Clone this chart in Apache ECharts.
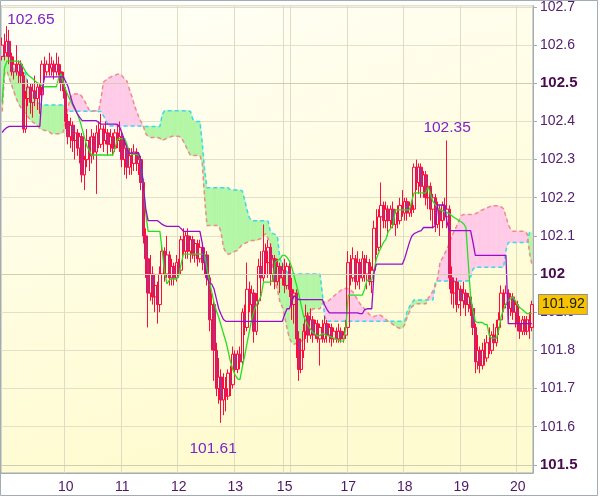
<!DOCTYPE html>
<html><head><meta charset="utf-8">
<script src="https://cdn.jsdelivr.net/npm/echarts@6/dist/echarts.min.js"></script>
<style>html,body{margin:0;padding:0;background:#fff}#c{width:600px;height:497px}</style>
</head><body><div id="c"></div>
<script>
// ---- tick labels ----
const dayLabels = ['10','11','12','13','15','17','18','19','20'];
const dayLabelIdx = [27,51,75,99,120,147,171,195,219];
const extraGridIdx = [123];
const lastPrice = 101.92;

// ---- candles ----
const open = [
102.57,102.60,102.58,102.61,102.57,102.53,102.55,102.53,102.55,102.52,
102.38,102.46,102.49,102.45,102.48,102.46,102.49,102.47,102.55,102.53,
102.55,102.54,102.55,102.53,102.55,102.53,102.50,102.48,102.40,102.36,
102.39,102.35,102.37,102.33,102.36,102.26,102.30,102.35,102.31,102.36,
102.32,102.37,102.34,102.38,102.35,102.37,102.34,102.36,102.33,102.37,
102.35,102.36,102.30,102.33,102.28,102.31,102.29,102.32,102.29,102.30,
102.24,102.10,102.04,101.95,102.00,101.94,101.97,101.92,102.00,102.06,
102.00,102.05,101.99,102.02,101.99,102.03,102.01,102.09,102.06,102.10,
102.06,102.09,102.05,102.08,102.04,102.07,102.03,102.05,101.99,101.88,
101.92,101.80,101.70,101.73,101.67,101.70,101.68,101.74,101.71,101.79,
101.75,101.79,101.77,101.90,101.86,101.96,101.92,101.95,101.85,101.93,
102.02,101.99,102.06,102.03,102.07,102.00,102.04,101.98,102.02,101.99,
102.01,101.97,102.02,101.96,101.92,101.95,101.83,101.75,101.80,101.85,
101.89,101.84,101.88,101.84,101.87,101.83,101.86,101.83,101.87,101.84,
101.86,101.83,101.85,101.83,101.85,101.83,101.84,101.86,102.03,101.99,
102.04,101.98,102.03,101.99,102.04,102.00,102.03,101.98,102.01,102.12,
102.07,102.15,102.18,102.14,102.17,102.14,102.17,102.13,102.16,102.14,
102.18,102.16,102.19,102.16,102.18,102.17,102.28,102.24,102.28,102.23,
102.26,102.20,102.23,102.17,102.20,102.13,102.17,102.14,102.18,102.15,
102.17,101.99,101.95,101.98,101.92,101.96,101.93,101.95,101.92,101.94,
101.91,101.86,101.77,101.80,101.76,101.80,101.78,101.82,101.80,101.84,
101.82,101.86,101.88,101.95,101.92,101.95,101.91,101.94,101.90,101.92,
101.87,101.85,101.88,101.85,101.88,101.86];
const close = [
102.60,102.58,102.61,102.57,102.53,102.55,102.53,102.55,102.52,102.38,
102.46,102.49,102.45,102.48,102.46,102.49,102.47,102.55,102.53,102.55,
102.54,102.55,102.53,102.55,102.53,102.50,102.48,102.40,102.36,102.39,
102.35,102.37,102.33,102.36,102.26,102.30,102.35,102.31,102.36,102.32,
102.37,102.34,102.38,102.35,102.37,102.34,102.36,102.33,102.37,102.35,
102.36,102.30,102.33,102.28,102.31,102.29,102.32,102.29,102.30,102.24,
102.10,102.04,101.95,102.00,101.94,101.97,101.92,102.00,102.06,102.00,
102.05,101.99,102.02,101.99,102.03,102.01,102.09,102.06,102.10,102.06,
102.09,102.05,102.08,102.04,102.07,102.03,102.05,101.99,101.88,101.92,
101.80,101.70,101.73,101.67,101.70,101.68,101.74,101.71,101.79,101.75,
101.79,101.77,101.90,101.86,101.96,101.92,101.95,101.85,101.93,102.02,
101.99,102.06,102.03,102.07,102.00,102.04,101.98,102.02,101.99,102.01,
101.97,102.02,101.96,101.92,101.95,101.83,101.75,101.80,101.85,101.89,
101.84,101.88,101.84,101.87,101.83,101.86,101.83,101.87,101.84,101.86,
101.83,101.85,101.83,101.85,101.83,101.84,101.86,102.03,101.99,102.04,
101.98,102.03,101.99,102.04,102.00,102.03,101.98,102.01,102.12,102.07,
102.15,102.18,102.14,102.17,102.14,102.17,102.13,102.16,102.14,102.18,
102.16,102.19,102.16,102.18,102.17,102.28,102.24,102.28,102.23,102.26,
102.20,102.23,102.17,102.20,102.13,102.17,102.14,102.18,102.15,102.17,
101.99,101.95,101.98,101.92,101.96,101.93,101.95,101.92,101.94,101.91,
101.86,101.77,101.80,101.76,101.80,101.78,101.82,101.80,101.84,101.82,
101.86,101.88,101.95,101.92,101.95,101.91,101.94,101.90,101.92,101.87,
101.85,101.88,101.85,101.88,101.86,101.92];
const high = [
102.62,102.63,102.65,102.64,102.58,102.57,102.60,102.56,102.56,102.53,
102.48,102.51,102.50,102.50,102.52,102.50,102.50,102.56,102.57,102.56,
102.58,102.57,102.56,102.58,102.57,102.55,102.53,102.49,102.42,102.41,
102.40,102.39,102.38,102.37,102.37,102.31,102.38,102.36,102.38,102.37,
102.39,102.40,102.42,102.39,102.40,102.38,102.38,102.37,102.38,102.39,
102.40,102.37,102.35,102.34,102.33,102.33,102.34,102.33,102.32,102.31,
102.25,102.12,102.06,102.05,102.02,101.99,101.98,102.02,102.08,102.07,
102.10,102.06,102.04,102.03,102.05,102.04,102.10,102.12,102.11,102.12,
102.10,102.10,102.09,102.09,102.09,102.08,102.07,102.06,102.00,101.95,
101.93,101.82,101.78,101.75,101.74,101.73,101.75,101.76,101.81,101.80,
101.80,101.81,101.91,101.92,102.03,101.98,101.97,101.96,101.95,102.04,
102.06,102.13,102.08,102.09,102.08,102.05,102.05,102.04,102.03,102.03,
102.04,102.03,102.03,101.99,101.96,101.96,101.85,101.82,101.87,101.92,
101.90,101.91,101.89,101.88,101.88,101.87,101.88,101.89,101.88,101.87,
101.87,101.86,101.86,101.87,101.86,101.85,101.88,102.06,102.05,102.07,
102.05,102.06,102.04,102.06,102.05,102.05,102.04,102.02,102.14,102.17,
102.17,102.24,102.19,102.19,102.18,102.18,102.19,102.17,102.18,102.20,
102.22,102.20,102.20,102.19,102.19,102.29,102.30,102.29,102.29,102.27,
102.27,102.25,102.24,102.21,102.21,102.19,102.18,102.19,102.20,102.35,
102.18,102.02,101.99,101.99,101.98,101.97,101.98,101.96,101.95,101.95,
101.92,101.87,101.84,101.81,101.82,101.83,101.84,101.86,101.85,101.87,
101.88,101.90,101.97,101.96,101.97,101.96,101.95,101.95,101.93,101.93,
101.89,101.89,101.89,101.89,101.90,101.93];
const low = [
102.56,102.56,102.57,102.55,102.52,102.51,102.52,102.50,102.50,102.37,
102.37,102.44,102.42,102.41,102.44,102.43,102.42,102.46,102.51,102.52,
102.52,102.52,102.51,102.52,102.52,102.48,102.46,102.38,102.34,102.33,
102.32,102.30,102.31,102.29,102.24,102.22,102.28,102.27,102.29,102.30,
102.21,102.33,102.33,102.32,102.34,102.31,102.32,102.31,102.32,102.33,
102.32,102.28,102.26,102.25,102.26,102.26,102.27,102.27,102.26,102.22,
102.08,101.99,101.86,101.93,101.92,101.90,101.87,101.90,101.99,101.98,
101.99,101.97,101.97,101.97,101.98,101.99,102.00,102.05,102.04,102.04,
102.03,102.04,102.03,102.02,102.03,102.01,102.00,101.97,101.85,101.80,
101.72,101.68,101.66,101.61,101.63,101.64,101.67,101.68,101.70,101.72,
101.74,101.75,101.76,101.84,101.85,101.90,101.88,101.82,101.84,101.92,
101.97,101.98,102.00,101.99,101.97,101.98,101.96,101.97,101.95,101.97,
101.95,101.96,101.94,101.88,101.87,101.78,101.72,101.74,101.78,101.83,
101.82,101.83,101.82,101.83,101.82,101.76,101.82,101.82,101.82,101.82,
101.81,101.82,101.82,101.82,101.82,101.82,101.83,101.85,101.97,101.98,
101.96,101.97,101.96,101.98,101.98,101.96,101.97,101.95,102.00,102.05,
102.06,102.13,102.12,102.12,102.10,102.12,102.12,102.10,102.12,102.13,
102.15,102.14,102.14,102.15,102.15,102.16,102.22,102.21,102.20,102.20,
102.18,102.17,102.14,102.12,102.11,102.12,102.10,102.12,102.14,102.12,
101.96,101.92,101.91,101.90,101.91,101.89,101.91,101.89,101.90,101.89,
101.84,101.74,101.75,101.74,101.75,101.76,101.77,101.79,101.79,101.80,
101.81,101.84,101.87,101.90,101.91,101.88,101.89,101.88,101.86,101.85,
101.83,101.84,101.84,101.84,101.83,101.85];

// ---- ichimoku lines ----
const tenkan = [
102.45,102.54,102.558,102.558,102.558,102.558,102.558,102.558,102.553,102.541,
102.530,102.522,102.517,102.512,102.506,102.501,102.498,102.493,102.491,102.491,
102.491,102.491,102.491,102.491,102.513,102.525,102.501,102.483,102.467,102.455,
102.442,102.430,102.419,102.402,102.380,102.357,102.335,102.324,102.312,102.312,
102.312,102.312,102.312,102.312,102.312,102.312,102.312,102.312,102.332,102.353,
102.355,102.355,102.355,102.340,102.319,102.314,102.314,102.314,102.312,102.296,
102.231,102.159,102.112,102.112,102.112,102.112,102.112,102.112,102.060,102.005,
101.974,101.984,101.987,101.987,101.987,101.995,102.026,102.052,102.052,102.052,
102.052,102.052,102.052,102.052,102.052,102.052,102.052,102.013,101.982,101.953,
101.925,101.904,101.886,101.865,101.844,101.824,101.798,101.770,101.749,101.735,
101.725,101.723,101.756,101.785,101.818,101.850,101.881,101.904,101.919,101.930,
101.943,101.979,101.979,101.979,101.979,101.984,102.031,102.036,102.039,102.049,
102.049,102.044,102.034,102.018,101.995,101.972,101.948,101.919,101.891,101.876,
101.865,101.855,101.847,101.842,101.837,101.839,101.844,101.842,101.839,101.837,
101.834,101.832,101.829,101.826,101.824,101.824,101.860,101.945,101.945,101.945,
101.945,101.945,101.945,101.945,101.961,101.984,101.984,101.984,102.010,102.041,
102.057,102.070,102.083,102.091,102.112,102.119,102.127,102.168,102.168,102.168,
102.168,102.168,102.168,102.168,102.192,102.213,102.213,102.213,102.213,102.213,
102.213,102.229,102.208,102.190,102.182,102.174,102.168,102.166,102.163,102.161,
102.158,102.153,102.148,102.145,102.140,102.137,102.132,102.122,102.031,101.940,
101.904,101.876,101.873,101.873,101.873,101.868,101.868,101.837,101.832,101.832,
101.832,101.855,101.889,101.907,101.922,101.930,101.935,101.940,101.930,101.919,
101.911,101.907,101.901,101.896,101.896,101.896];
const kijun = [
102.371,102.379,102.384,102.387,102.387,102.387,102.387,102.387,102.387,102.387,
102.387,102.387,102.387,102.387,102.387,102.387,102.387,102.483,102.517,102.517,
102.517,102.517,102.517,102.517,102.517,102.517,102.517,102.504,102.491,102.467,
102.446,102.433,102.419,102.410,102.402,102.402,102.402,102.402,102.402,102.402,
102.402,102.397,102.393,102.393,102.393,102.393,102.393,102.393,102.393,102.392,
102.384,102.368,102.348,102.330,102.317,102.317,102.317,102.317,102.317,102.296,
102.228,102.171,102.140,102.140,102.140,102.140,102.140,102.135,102.130,102.127,
102.125,102.125,102.125,102.125,102.125,102.125,102.119,102.112,102.112,102.112,
102.112,102.112,102.112,102.112,102.112,102.081,102.024,101.990,101.977,101.974,
101.961,101.935,101.909,101.894,101.881,101.876,101.876,101.876,101.876,101.876,
101.876,101.876,101.876,101.876,101.876,101.876,101.876,101.876,101.876,101.876,
101.876,101.876,101.876,101.876,101.876,101.876,101.876,101.876,101.876,101.876,
101.894,101.909,101.909,101.927,101.943,101.938,101.933,101.933,101.933,101.933,
101.933,101.933,101.933,101.933,101.933,101.933,101.933,101.919,101.907,101.898,
101.898,101.898,101.898,101.898,101.898,101.898,101.898,101.898,101.898,101.898,
101.898,101.898,101.896,101.896,101.907,101.909,101.909,101.909,102.005,102.026,
102.026,102.026,102.026,102.026,102.026,102.026,102.026,102.026,102.026,102.026,
102.026,102.041,102.062,102.083,102.099,102.106,102.109,102.112,102.114,102.122,
102.122,102.122,102.122,102.122,102.127,102.181,102.181,102.181,102.181,102.135,
102.114,102.114,102.114,102.114,102.114,102.114,102.114,102.114,102.114,102.114,
102.083,102.049,102.049,102.049,102.049,102.049,102.049,102.049,102.049,102.049,
102.049,102.049,102.049,102.049,102.049,101.870,101.870,101.870,101.870,101.870,
101.870,101.870,101.870,101.870,101.870,101.870];
const spanA = [
102.571,102.571,102.571,102.571,102.571,102.535,102.527,102.527,102.527,102.527,
102.527,102.485,102.475,102.467,102.457,102.449,102.446,102.443,102.443,102.443,
102.443,102.443,102.443,102.443,102.443,102.443,102.443,102.433,102.427,102.427,
102.427,102.427,102.427,102.427,102.427,102.427,102.427,102.427,102.427,102.427,
102.427,102.426,102.426,102.415,102.405,102.389,102.388,102.388,102.388,102.388,
102.388,102.388,102.388,102.388,102.388,102.388,102.388,102.388,102.388,102.388,
102.387,102.387,102.387,102.387,102.387,102.387,102.387,102.387,102.418,102.428,
102.428,102.428,102.428,102.428,102.428,102.428,102.428,102.428,102.428,102.428,
102.426,102.405,102.400,102.400,102.400,102.343,102.272,102.226,102.226,102.226,
102.226,102.226,102.226,102.226,102.226,102.226,102.226,102.220,102.220,102.220,
102.220,102.220,102.218,102.195,102.168,102.148,102.140,102.140,102.140,102.140,
102.140,102.140,102.140,102.138,102.109,102.106,102.104,102.094,102.039,102.028,
102.016,102.005,102.000,102.000,102.000,102.000,102.000,102.000,102.000,102.000,
102.000,102.000,102.000,102.000,102.000,102.000,101.950,101.889,101.876,101.876,
101.876,101.876,101.876,101.876,101.876,101.876,101.876,101.876,101.876,101.876,
101.876,101.876,101.876,101.876,101.876,101.876,101.876,101.876,101.876,101.876,
101.876,101.876,101.876,101.876,101.876,101.876,101.876,101.876,101.876,101.876,
101.876,101.876,101.901,101.914,101.924,101.932,101.932,101.932,101.932,101.932,
101.932,101.932,101.932,101.932,101.979,101.982,101.982,101.982,101.982,101.982,
101.982,101.982,101.982,101.982,101.982,101.982,101.982,101.982,101.982,101.992,
102.013,102.018,102.018,102.018,102.018,102.018,102.018,102.018,102.018,102.018,
102.018,102.018,102.018,102.018,102.062,102.083,102.083,102.083,102.083,102.083,
102.083,102.083,102.083,102.083,102.109,102.109];
const spanB = [
102.426,102.524,102.532,102.514,102.496,102.478,102.460,102.446,102.436,102.426,
102.420,102.412,102.404,102.399,102.394,102.389,102.381,102.379,102.376,102.376,
102.373,102.368,102.368,102.368,102.368,102.368,102.373,102.407,102.436,102.464,
102.472,102.472,102.472,102.472,102.464,102.454,102.441,102.430,102.428,102.428,
102.428,102.428,102.459,102.503,102.508,102.514,102.516,102.519,102.521,102.524,
102.524,102.519,102.511,102.506,102.485,102.467,102.446,102.428,102.412,102.399,
102.387,102.368,102.361,102.358,102.358,102.358,102.358,102.356,102.350,102.353,
102.356,102.358,102.361,102.361,102.361,102.361,102.358,102.348,102.335,102.322,
102.311,102.311,102.311,102.311,102.311,102.291,102.200,102.127,102.127,102.127,
102.127,102.127,102.127,102.109,102.070,102.057,102.052,102.054,102.057,102.060,
102.062,102.070,102.078,102.080,102.083,102.086,102.088,102.088,102.088,102.091,
102.093,102.101,102.106,102.093,102.078,102.018,101.979,101.956,101.927,101.914,
101.889,101.858,101.832,101.821,101.816,101.819,101.821,101.824,101.829,101.842,
101.894,101.901,101.909,101.909,101.909,101.909,101.922,101.927,101.927,101.932,
101.937,101.943,101.948,101.953,101.958,101.961,101.963,101.961,101.958,101.953,
101.943,101.932,101.922,101.914,101.909,101.901,101.894,101.889,101.889,101.891,
101.894,101.891,101.886,101.881,101.876,101.873,101.868,101.863,101.860,101.858,
101.858,101.868,101.886,101.901,101.914,101.919,101.922,101.922,101.922,101.922,
101.922,101.937,101.945,101.956,101.969,101.989,102.031,102.041,102.054,102.065,
102.083,102.099,102.112,102.125,102.140,102.153,102.156,102.156,102.156,102.156,
102.156,102.158,102.161,102.166,102.168,102.171,102.174,102.176,102.179,102.179,
102.179,102.179,102.176,102.171,102.151,102.130,102.117,102.112,102.112,102.112,
102.112,102.112,102.112,102.106,102.057,102.026];

// ---- build library structures ----
const N = close.length;
const cats = close.map((_, i) => String(i));
const candleData = close.map((c, i) => [open[i], c, low[i], high[i]]);
const cloudData = spanA.slice(0, -1).map((a, i) => [i, a, spanB[i], spanA[i + 1], spanB[i + 1]]);

function argBest(arr, from, to, better) {
  let b = from;
  for (let i = from; i < to; i++) if (better(arr[i], arr[b])) b = i;
  return b;
}
const iMax = argBest(high, 0, N, (a, b) => a > b);
const iMin = argBest(low, 0, N, (a, b) => a < b);
const iMax2 = argBest(high, dayLabelIdx[6], N, (a, b) => a > b);

const GREEN = '#b3f6a6', PINK = '#ffcbe8';
function renderCloud(params, api) {
  const i = api.value(0);
  const a0 = api.value(1), b0 = api.value(2), a1 = api.value(3), b1 = api.value(4);
  const pA0 = api.coord([i, a0]), pB0 = api.coord([i, b0]);
  const pA1 = api.coord([i + 1, a1]), pB1 = api.coord([i + 1, b1]);
  const d0 = a0 - b0, d1 = a1 - b1;
  const ch = [];
  const poly = (pts, col) => ch.push({type: 'polygon', shape: {points: pts}, style: {fill: col, stroke: col, lineWidth: 0.6}});
  if (d0 * d1 >= 0) {
    poly([pA0, pA1, pB1, pB0], (d0 + d1) >= 0 ? GREEN : PINK);
  } else {
    const t = d0 / (d0 - d1);
    const px = [pA0[0] + (pA1[0] - pA0[0]) * t, pA0[1] + (pA1[1] - pA0[1]) * t];
    poly([pA0, px, pB0], d0 > 0 ? GREEN : PINK);
    poly([px, pA1, pB1], d1 > 0 ? GREEN : PINK);
  }
  return {type: 'group', children: ch};
}

const labelColor = '#55206e';
const chart = echarts.init(document.getElementById('c'), null, {renderer: 'canvas'});
chart.setOption({
  animation: false,
  backgroundColor: '#ffffff',
  textStyle: {fontFamily: 'Liberation Sans, Arial, sans-serif'},
  graphic: [{type: 'rect', shape: {x: 0.5, y: 0.5, width: 597, height: 495}, style: {fill: 'none', stroke: '#a3abb3', lineWidth: 1}, z: 100, silent: true}],
  grid: {
    left: 1, top: 1, right: 67, bottom: 24, show: true,
    borderColor: '#a3abb3', borderWidth: 1,
    backgroundColor: {type: 'linear', x: 0, y: 0, x2: 0.25, y2: 1, colorStops: [{offset: 0, color: '#fffff8'}, {offset: 1, color: '#fffbd0'}]}
  },
  xAxis: {
    type: 'category', data: cats, boundaryGap: true,
    axisLine: {lineStyle: {color: '#a3abb3'}},
    axisTick: {show: false},
    axisLabel: {
      interval: (i) => dayLabelIdx.includes(i),
      formatter: (v, i) => { const k = dayLabelIdx.indexOf(i); return k >= 0 ? dayLabels[k] : ''; },
      color: '#4e1766', fontSize: 14, margin: 7
    },
    splitLine: {show: true, interval: (i) => dayLabelIdx.includes(i) || extraGridIdx.includes(i), lineStyle: {color: '#dedcc2', width: 1}}
  },
  yAxis: {
    type: 'value', position: 'right', scale: true,
    min: 101.4785, max: 102.7035, splitNumber: 12,
    axisLine: {show: true, lineStyle: {color: '#a3abb3'}},
    axisTick: {show: true, length: 4, lineStyle: {color: '#a3abb3'}},
    axisLabel: {
      showMinLabel: false, showMaxLabel: false,
      color: labelColor, fontSize: 14, margin: 7,
      formatter: (v) => {
        const r = Math.round(v * 10) / 10;
        if (Math.abs(v - r) > 1e-6) return '';
        const s = String(+r.toFixed(1));
        return Math.abs(r * 2 - Math.round(r * 2)) < 1e-6 ? '{b|' + s + '}' : s;
      },
      rich: {b: {fontWeight: 'bold', fontSize: 15, color: '#4a0a4e'}}
    },
    splitLine: {show: true, lineStyle: {color: '#e2e0c8', width: 1}}
  },
  series: [
    {
      type: 'custom', name: 'cloud', renderItem: renderCloud, data: cloudData,
      encode: {x: 0, y: [1, 2, 3, 4]}, clip: true, z: 1, silent: true,
      markLine: {
        silent: true, symbol: ['none', 'none'], label: {show: false},
        lineStyle: {color: '#cfceae', type: 'solid', width: 1},
        data: [{yAxis: 101.5}, {yAxis: 102.0}, {yAxis: 102.5}]
      }
    },
    {type: 'line', name: 'spanA', data: spanA, showSymbol: false, z: 2, silent: true,
      lineStyle: {color: '#38d8ee', width: 1.5, type: [4, 3]}},
    {type: 'line', name: 'spanB', data: spanB, showSymbol: false, z: 2, silent: true,
      lineStyle: {color: '#f08a8a', width: 1.5, type: [4, 3]}},
    {
      type: 'candlestick', name: 'price', data: candleData, barWidth: 3, z: 3,
      itemStyle: {color: 'rgba(255,255,255,0)', color0: '#a8308e', borderColor: '#ff0a3c', borderColor0: '#ff0a3c', borderWidth: 1},
      markPoint: {
        symbol: 'circle', symbolSize: 0, silent: true,
        label: {show: true, color: '#7f22c9', fontSize: 15.5, formatter: (p) => p.value.toFixed(2)},
        data: [
          {coord: [iMax, high[iMax]], value: high[iMax], label: {offset: [24, -6]}},
          {coord: [iMax2, high[iMax2]], value: high[iMax2], label: {offset: [0, -13]}},
          {coord: [iMin, low[iMin]], value: low[iMin], label: {offset: [-8, 26]}}
        ]
      }
    },
    {type: 'line', name: 'tenkan', data: tenkan, showSymbol: false, z: 4, silent: true,
      lineStyle: {color: '#22e022', width: 1.3}},
    {type: 'line', name: 'kijun', data: kijun, showSymbol: false, z: 4, silent: true,
      lineStyle: {color: '#9a0ccc', width: 1.3},
      markLine: {
        silent: true, symbol: ['none', 'none'],
        lineStyle: {color: 'rgba(0,0,0,0)', width: 1, type: 'solid'},
        data: [{yAxis: lastPrice}],
        label: {show: true, position: 'end', distance: 6, formatter: lastPrice.toFixed(2), color: '#1a1a1a', fontSize: 14,
          backgroundColor: '#f7c200', borderColor: '#8e8e8e', borderWidth: 1, padding: [3, 2, 2, 3]}
      }
    }
  ]
});
</script>
</body></html>
